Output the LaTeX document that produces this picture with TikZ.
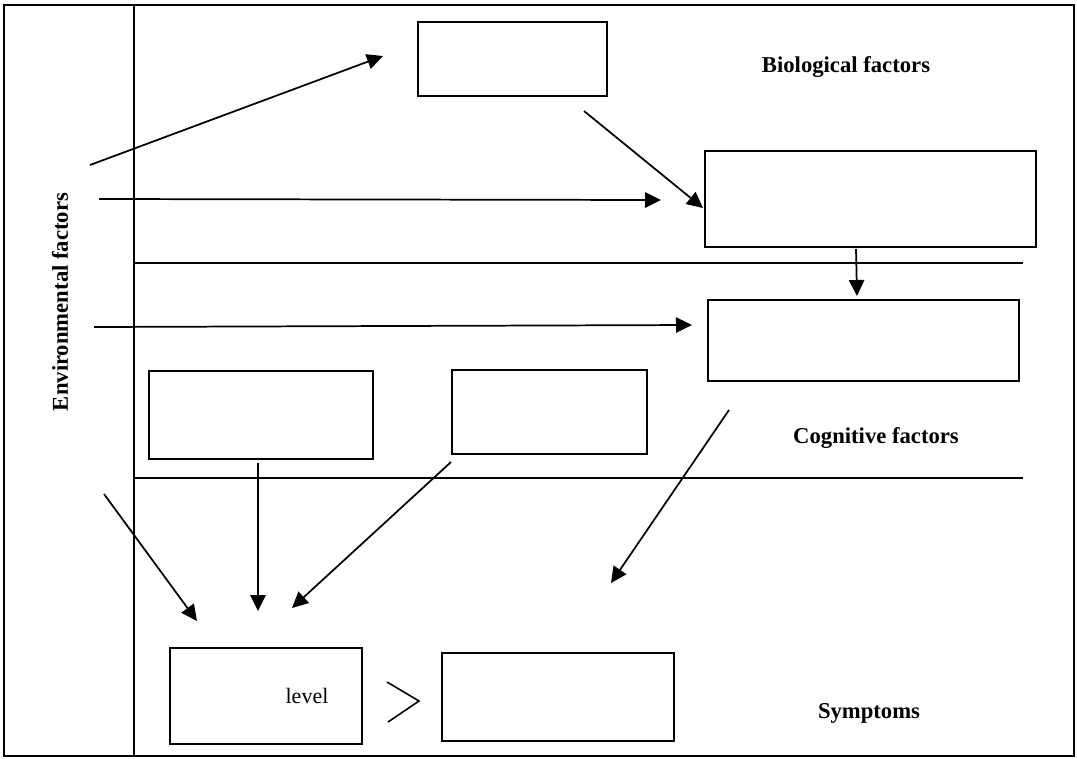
\documentclass[tikz,border=0pt]{standalone}
\usepackage{fontspec}
\setmainfont{Liberation Serif}
\usetikzlibrary{arrows.meta}
\begin{document}
\begin{tikzpicture}[x=0.75pt,y=-0.75pt,
  frame/.style={line width=1.5pt},
  stage/.style={draw,line width=1.5pt},
  flow/.style={line width=1.3pt,-{Triangle[length=12pt,width=11.5pt]}},
  label/.style={font=\fontsize{17}{18}\selectfont\bfseries},
  note/.style={font=\fontsize{16.5}{18}\selectfont}]
\useasboundingbox (0,0) rectangle (1077,758);
% outer frame and dividers
\draw[frame] (4,5) rectangle (1074,756);
\draw[frame] (134,5) -- (134,756);
\draw[frame] (134,263) -- (1023,263);
\draw[frame] (134,478) -- (1023,478);
% boxes
\draw[stage] (418,22) rectangle (607,96);
\draw[stage] (705,151) rectangle (1036,247);
\draw[stage] (708,300) rectangle (1019,381);
\draw[stage] (149,371) rectangle (373,459);
\draw[stage] (452,370) rectangle (647,454);
\draw[stage] (170,648) rectangle (362,744);
\draw[stage] (442,653) rectangle (674,741);
% labels
\node[label] (bio) at (846,67) {Biological factors};
\node[label] (cog) at (876,438) {Cognitive factors};
\node[label] (sym) at (869,713) {Symptoms};
\node[label,rotate=90] (env) at (60,302) {Environmental factors};
\node[note] (lvl) at (307,696) {level};
% comparison sign
\draw[line width=1.2pt] (387,682) -- (419,701) -- (388,722);
% arrow end points
\coordinate (a1s) at (90,165);  \coordinate (a1e) at (383,56);
\coordinate (a2s) at (584,111); \coordinate (a2e) at (703,208);
\coordinate (a3s) at (99,199);  \coordinate (a3e) at (661,200);
\coordinate (a4s) at (856,249); \coordinate (a4e) at (857,296);
\coordinate (a5s) at (94,327);  \coordinate (a5e) at (692,325);
\coordinate (a6s) at (729,410); \coordinate (a6e) at (611,583);
\coordinate (a7s) at (258,463); \coordinate (a7e) at (258,611);
\coordinate (a8s) at (451,462); \coordinate (a8e) at (292,608);
\coordinate (a9s) at (104,494); \coordinate (a9e) at (197,621);
% arrows
\foreach \i in {1,...,9}{\draw[flow] (a\i s) -- (a\i e);}
\end{tikzpicture}
\end{document}
